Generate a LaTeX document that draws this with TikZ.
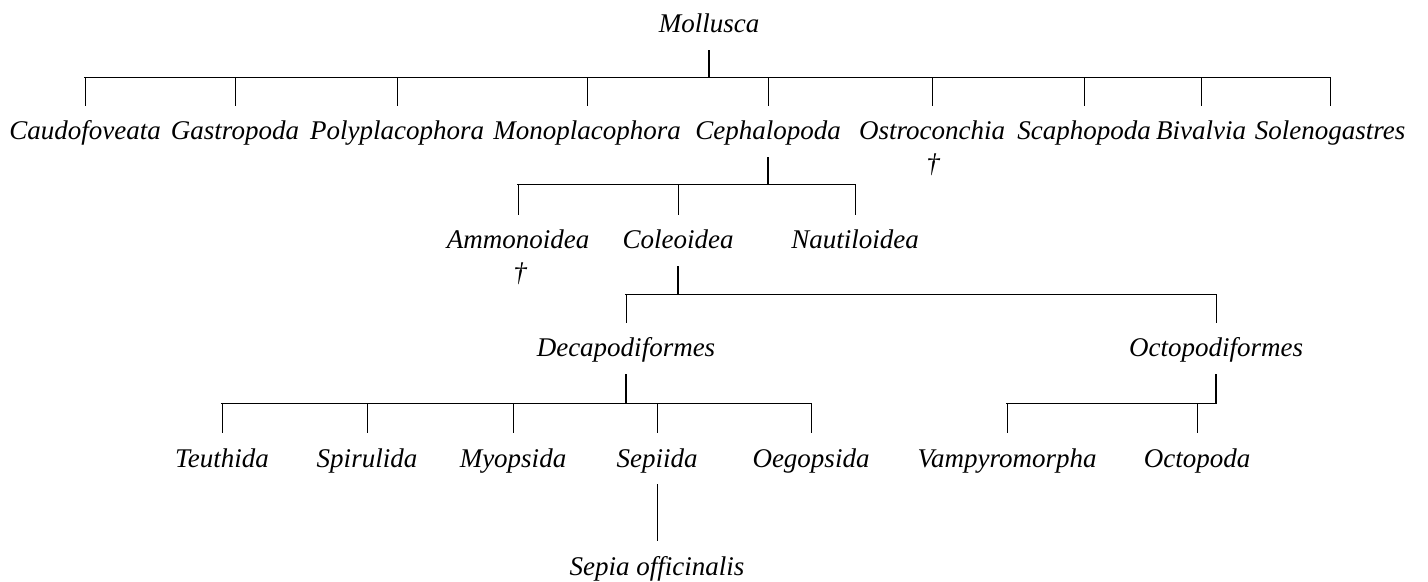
\documentclass[tikz,border=0pt]{standalone}
\usepackage{fontspec}
\setmainfont{Liberation Serif}
\usetikzlibrary{positioning,calc}
\begin{document}
\begin{tikzpicture}[x=0.5pt,y=-0.5pt,
taxon/.style={font=\fontsize{13.5}{16}\selectfont\itshape,inner sep=0pt,anchor=base,text height=17pt,text depth=8.5pt},
stem/.style={line width=1pt},
bar/.style={line width=0.8pt,line cap=rect},
drop/.style={line width=0.5pt}]
\useasboundingbox (0,0) rectangle (1428,582);
\node[taxon](mol) at (709,33){Mollusca};
\node[taxon](cau) at (85,140){Caudofoveata};
\node[taxon](gas) at (235,140){Gastropoda};
\node[taxon](pol) at (397,140){Polyplacophora};
\node[taxon](mon) at (587,140){Monoplacophora};
\node[taxon](cep) at (768,140){Cephalopoda};
\node[taxon](ost) at (932,140){Ostroconchia};
\node[taxon](sca) at (1084,140){Scaphopoda};
\node[taxon](biv) at (1201,140){Bivalvia};
\node[taxon](sol) at (1330,140){Solenogastres};
\node[taxon](ostx) at (933,173){†};
\node[taxon](amm) at (518,249){Ammonoidea};
\node[taxon](col) at (678,249){Coleoidea};
\node[taxon](nau) at (855,249){Nautiloidea};
\node[taxon](ammx) at (520,282){†};
\node[taxon](dec) at (626,357){Decapodiformes};
\node[taxon](oct) at (1216,357){Octopodiformes};
\node[taxon](teu) at (222,467){Teuthida};
\node[taxon](spi) at (367,467){Spirulida};
\node[taxon](myo) at (513,467){Myopsida};
\node[taxon](sep) at (657,467){Sepiida};
\node[taxon](oeg) at (811,467){Oegopsida};
\node[taxon](vam) at (1007,467){Vampyromorpha};
\node[taxon](octo) at (1197,467){Octopoda};
\node[taxon](off) at (657,575){Sepia officinalis};
\draw[stem](mol.south)--++(0,27)coordinate(molb);
\draw[bar](cau.north|-molb)--(sol.north|-molb);
\foreach \t in {cau,gas,pol,mon,cep,ost,sca,biv,sol}\draw[drop](\t.north)--(\t.north|-molb);
\draw[stem](cep.south)--++(0,27)coordinate(cepb);
\draw[bar](amm.north|-cepb)--(nau.north|-cepb);
\foreach \t in {amm,col,nau}\draw[drop](\t.north)--(\t.north|-cepb);
\draw[stem](col.south)--++(0,28)coordinate(colb);
\draw[bar](dec.north|-colb)--(oct.north|-colb);
\foreach \t in {dec,oct}\draw[drop](\t.north)--(\t.north|-colb);
\draw[stem](dec.south)--++(0,29)coordinate(decb);
\draw[bar](teu.north|-decb)--(oeg.north|-decb);
\foreach \t in {teu,spi,myo,sep,oeg}\draw[drop](\t.north)--(\t.north|-decb);
\draw[stem](oct.south)--++(0,29)coordinate(octb);
\draw[bar](vam.north|-octb)--(oct.south|-octb);
\foreach \t in {vam,octo}\draw[drop](\t.north)--(\t.north|-octb);
\draw[drop](sep.south)--(off.north);
\end{tikzpicture}
\end{document}
